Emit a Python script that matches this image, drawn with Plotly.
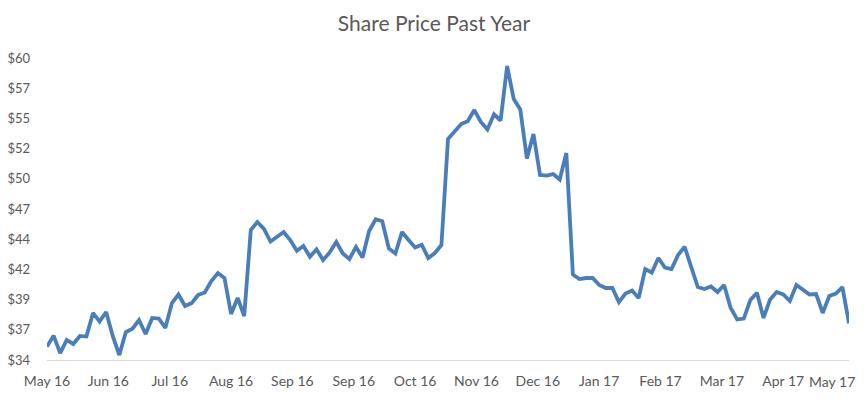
import plotly.graph_objects as go
import pandas as pd

# share price, every 3 days from 12 May 2016
price = [
    35.15, 36.10, 34.60, 35.72, 35.38, 36.07, 36.02, 38.05, 37.31, 38.13,
    36.07, 34.43, 36.41, 36.69, 37.44, 36.24, 37.62, 37.57, 36.76, 38.90,
    39.64, 38.65, 38.90, 39.60, 39.81, 40.80, 41.49, 41.06, 37.96, 39.34,
    37.79, 45.19, 45.88, 45.28, 44.20, 44.63, 45.02, 44.33, 43.41, 43.81,
    42.89, 43.53, 42.61, 43.26, 44.16, 43.17, 42.70, 43.73, 42.82, 45.10,
    46.12, 45.94, 43.60, 43.17, 45.02, 44.33, 43.69, 43.93, 42.78, 43.21,
    43.90, 53.03, 53.72, 54.32, 54.55, 55.52, 54.49, 53.84, 55.15, 54.62,
    59.31, 56.47, 55.57, 51.35, 53.46, 49.93, 49.88, 50.01, 49.54, 51.82,
    41.36, 40.97, 41.06, 41.06, 40.46, 40.20, 40.20, 38.99, 39.72, 39.98,
    39.34, 41.83, 41.53, 42.78, 41.96, 41.83, 43.04, 43.75, 42.00, 40.28,
    40.11, 40.33, 39.85, 40.46, 38.48, 37.49, 37.57, 39.17, 39.79, 37.62,
    39.21, 39.85, 39.64, 39.08, 40.46, 40.03, 39.64, 39.68, 38.05, 39.51,
    39.72, 40.28, 37.16,
]
dates = pd.date_range('2016-05-12', periods=len(price), freq='3D')
tick_dates = pd.date_range('2016-05-12', periods=14, freq='28D')

grey = '#595959'
fnt = 'Lato, Open Sans, sans-serif'

trace = go.Scatter(
    x=dates,
    y=price,
    mode='lines',
    line=dict(color='#4A7EBB', width=3.8),
    name='Share Price',
)

# page body has an 8px margin, so the figure is a bit smaller than the window
layout = go.Layout(
    width=852,
    height=385,
    title=dict(text='Share Price Past Year', x=0.5, xanchor='center',
               y=1 - 16 / 385, yref='container', yanchor='middle',
               font=dict(family=fnt, size=21, color=grey)),
    font=dict(family=fnt, size=13, color=grey),
    margin=dict(l=39, r=11, t=50, b=33, autoexpand=False),
    plot_bgcolor='white',
    paper_bgcolor='white',
    showlegend=False,
    xaxis=dict(
        range=[dates[0], dates[-1]],
        tickvals=tick_dates[:-1],
        tickformat='%b %y',
        tickfont=dict(size=14),
        showgrid=False,
        zeroline=False,
        showline=True,
        linecolor='#D9D9D9',
        linewidth=1,
        ticks='',
        ticklabelstandoff=8,
        automargin=False,
    ),
    yaxis=dict(
        range=[34, 60],
        tick0=34,
        dtick=2.6,
        tickprefix='$',
        tickformat='.0f',
        showgrid=False,
        zeroline=False,
        showline=False,
        ticks='',
        ticklabelstandoff=16,
        automargin=False,
    ),
    # last tick label runs off the edge, plotly drops it, so draw it by hand
    # and nudge it left so it stays inside the figure
    annotations=[dict(
        x=tick_dates[-1], xref='x', y=0, yref='paper',
        text=tick_dates[-1].strftime('%b %y'), showarrow=False,
        xanchor='right', yanchor='middle', xshift=12, yshift=-21,
        font=dict(family=fnt, size=14, color=grey),
    )],
)

fig = go.Figure(data=[trace], layout=layout)
fig.write_html('out.html')
